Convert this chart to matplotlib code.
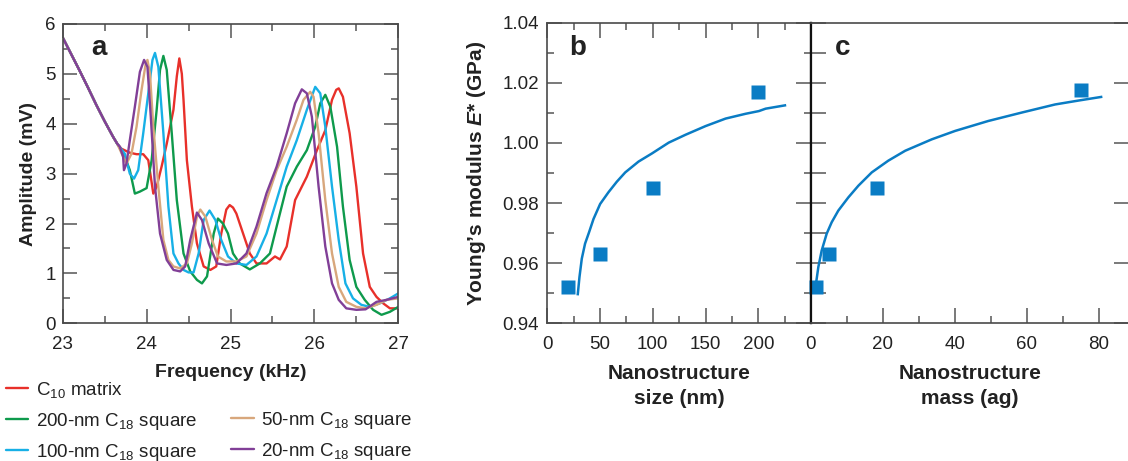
import numpy as np
import matplotlib
matplotlib.use("Agg")
import matplotlib.pyplot as plt
from matplotlib.lines import Line2D
from matplotlib.ticker import MultipleLocator, FixedLocator, FormatStrFormatter

plt.rcParams['font.family'] = ['Liberation Sans', 'DejaVu Sans']
plt.rcParams['mathtext.fontset'] = 'custom'
plt.rcParams['mathtext.rm'] = 'Liberation Sans'
plt.rcParams['mathtext.it'] = 'Liberation Sans:italic'
plt.rcParams['mathtext.bf'] = 'Liberation Sans:bold'
plt.rcParams['mathtext.bfit'] = 'Liberation Sans:italic:bold'

# ---------------- Panel a data ----------------
freq_common = [23.0, 23.1, 23.2, 23.3, 23.4, 23.5, 23.6, 23.65]
amp_common = [5.73, 5.40, 5.07, 4.73, 4.38, 4.05, 3.74, 3.60]

freq_c10 = [23.7, 23.8, 23.88, 23.96, 24.02, 24.08, 24.12, 24.18, 24.24, 24.32, 24.36, 24.39,
            24.42, 24.44, 24.48, 24.54, 24.6, 24.68, 24.76, 24.83, 24.89, 24.95, 24.99, 25.03,
            25.07, 25.15, 25.23, 25.31, 25.43, 25.53, 25.59, 25.67, 25.77, 25.91, 26.03, 26.13,
            26.21, 26.26, 26.29, 26.34, 26.42, 26.5, 26.58, 26.66, 26.74, 26.82, 26.9, 27.0]
amp_c10 = [3.50, 3.42, 3.39, 3.39, 3.27, 2.60, 2.74, 3.15, 3.60, 4.28, 4.95, 5.31,
           5.00, 4.48, 3.27, 2.34, 1.60, 1.14, 1.07, 1.14, 1.80, 2.28, 2.37, 2.32,
           2.20, 1.80, 1.40, 1.20, 1.20, 1.34, 1.28, 1.54, 2.47, 2.94, 3.47, 3.87,
           4.48, 4.68, 4.71, 4.54, 3.81, 2.74, 1.40, 0.73, 0.53, 0.40, 0.30, 0.30]

freq_200 = [23.74, 23.8, 23.86, 23.92, 24.0, 24.06, 24.12, 24.16, 24.2, 24.24, 24.3, 24.36,
            24.44, 24.52, 24.6, 24.66, 24.72, 24.8, 24.85, 24.91, 24.97, 25.03, 25.11, 25.23,
            25.35, 25.47, 25.55, 25.67, 25.79, 25.91, 26.01, 26.07, 26.13, 26.19, 26.27, 26.34,
            26.42, 26.5, 26.6, 26.7, 26.8, 26.9, 27.0]
amp_200 = [3.34, 3.07, 2.60, 2.64, 2.71, 3.27, 4.28, 5.08, 5.36, 5.08, 3.81, 2.47,
           1.40, 1.04, 0.87, 0.80, 0.94, 1.80, 2.10, 2.00, 1.80, 1.40, 1.20, 1.08,
           1.20, 1.40, 1.94, 2.74, 3.14, 3.47, 3.94, 4.41, 4.58, 4.34, 3.54, 2.34,
           1.27, 0.73, 0.47, 0.27, 0.17, 0.23, 0.33]

freq_100 = [23.74, 23.8, 23.85, 23.9, 23.96, 24.02, 24.07, 24.1, 24.14, 24.2, 24.26, 24.32,
            24.38, 24.44, 24.5, 24.56, 24.62, 24.68, 24.75, 24.82, 24.89, 24.97, 25.07, 25.19,
            25.31, 25.43, 25.55, 25.67, 25.79, 25.91, 26.01, 26.07, 26.13, 26.21, 26.29, 26.37,
            26.46, 26.56, 26.66, 26.78, 26.9, 27.0]
amp_100 = [3.40, 3.00, 2.90, 3.07, 3.81, 4.61, 5.28, 5.42, 5.14, 3.81, 2.34, 1.40,
           1.20, 1.07, 1.02, 1.02, 1.40, 2.07, 2.26, 2.07, 1.67, 1.34, 1.20, 1.17,
           1.34, 1.80, 2.47, 3.14, 3.67, 4.28, 4.74, 4.61, 3.94, 2.74, 1.67, 0.80,
           0.50, 0.37, 0.33, 0.40, 0.50, 0.60]

freq_50 = [23.72, 23.76, 23.82, 23.88, 23.94, 23.99, 24.01, 24.04, 24.08, 24.14, 24.2, 24.26,
           24.32, 24.4, 24.48, 24.54, 24.6, 24.64, 24.7, 24.78, 24.85, 24.95, 25.07, 25.19,
           25.31, 25.43, 25.55, 25.67, 25.79, 25.87, 25.95, 25.99, 26.05, 26.13, 26.21, 26.29,
           26.38, 26.5, 26.61, 26.74, 26.86, 27.0]
amp_50 = [3.34, 3.20, 3.40, 3.94, 4.68, 5.21, 5.28, 5.01, 3.94, 2.74, 1.67, 1.27,
          1.14, 1.10, 1.20, 1.60, 2.14, 2.28, 2.14, 1.67, 1.34, 1.24, 1.24, 1.34,
          1.80, 2.47, 3.07, 3.54, 4.08, 4.48, 4.64, 4.54, 3.81, 2.47, 1.40, 0.73,
          0.43, 0.33, 0.30, 0.37, 0.47, 0.50]

freq_20 = [23.68, 23.72, 23.73, 23.76, 23.8, 23.86, 23.92, 23.97, 24.01, 24.05, 24.1, 24.16,
           24.24, 24.32, 24.4, 24.46, 24.52, 24.6, 24.66, 24.74, 24.84, 24.95, 25.07, 25.19,
           25.31, 25.43, 25.55, 25.67, 25.77, 25.85, 25.91, 25.97, 26.05, 26.13, 26.21, 26.29,
           26.38, 26.5, 26.61, 26.74, 26.86, 27.0]
amp_20 = [3.54, 3.34, 3.07, 3.20, 3.67, 4.34, 5.04, 5.28, 5.14, 4.14, 2.74, 1.80,
          1.27, 1.07, 1.04, 1.14, 1.67, 2.22, 2.07, 1.60, 1.20, 1.17, 1.20, 1.40,
          1.94, 2.61, 3.14, 3.81, 4.41, 4.69, 4.61, 4.14, 2.74, 1.54, 0.80, 0.47,
          0.30, 0.27, 0.28, 0.43, 0.47, 0.53]

labels_a = [r'C$_{10}$ matrix', r'200-nm C$_{18}$ square', r'100-nm C$_{18}$ square',
            r'50-nm C$_{18}$ square', r'20-nm C$_{18}$ square']
colors_a = ['#e8302a', '#0e9a4c', '#17b0e6', '#d8a77c', '#813f97']

# ---------------- Panels b, c data ----------------
size_nm = [20, 50, 100, 200]
modulus_size = [0.952, 0.963, 0.985, 1.017]
fit_size_x = [28.9, 30.5, 32.7, 35.8, 39.6, 43.8, 50.1, 58.0, 65.9, 73.9, 86.5, 99.2,
              115.1, 130.9, 150.0, 169.0, 188.0, 200.6, 207.0, 225.3]
fit_size_y = [0.9497, 0.9554, 0.9615, 0.9665, 0.9703, 0.9747, 0.9797, 0.9836, 0.9871,
              0.9902, 0.9938, 0.9965, 1.0001, 1.0027, 1.0056, 1.0081, 1.0097, 1.0106,
              1.0114, 1.0125]

mass_ag = [1.3, 5.0, 18.4, 75.1]
modulus_mass = [0.952, 0.963, 0.985, 1.0176]
fit_mass_x = [1.39, 2.04, 2.97, 4.36, 5.75, 7.6, 10.4, 13.2, 16.9, 21.5, 26.2, 33.6,
              40.1, 49.3, 58.6, 67.9, 74.4, 80.7]
fit_mass_y = [0.9532, 0.9587, 0.9642, 0.9698, 0.9736, 0.9775, 0.9819, 0.9858, 0.9902,
              0.9941, 0.9974, 1.0012, 1.0040, 1.0073, 1.0101, 1.0128, 1.0141, 1.0153]

blue = '#0a7cc4'
spine_gray = '#4a4a4a'
tick_gray = '#555555'
text_col = '#222222'
TICK_FS = 13.5

W, H = 1128, 461
fig = plt.figure(figsize=(W / 100, H / 100), dpi=100)


def fig_rect(l, r, t, b):
    return [l / W, 1 - b / H, (r - l) / W, (b - t) / H]


# ---------------- Panel a ----------------
axa = fig.add_axes(fig_rect(62.7, 398.3, 24, 323.3))
series = [(freq_c10, amp_c10), (freq_200, amp_200), (freq_100, amp_100),
          (freq_50, amp_50), (freq_20, amp_20)]
handles = []
for (f, a), col, lab in zip(series, colors_a, labels_a):
    ff = freq_common + f
    aa = amp_common + a
    h, = axa.plot(ff, aa, color=col, lw=1.7, solid_joinstyle='round',
                  solid_capstyle='round', label=lab)
    handles.append(h)
axa.set_xlim(23, 27)
axa.set_ylim(0, 6)
axa.xaxis.set_major_locator(MultipleLocator(1))
axa.xaxis.set_minor_locator(MultipleLocator(0.5))
axa.yaxis.set_major_locator(MultipleLocator(1))
axa.yaxis.set_minor_locator(MultipleLocator(0.5))
axa.tick_params(which='both', direction='in', top=True, right=True, color=tick_gray,
                width=1.1, labelsize=TICK_FS, labelcolor=text_col)
axa.tick_params(which='major', length=10)
axa.tick_params(which='minor', length=5)
axa.tick_params(axis='x', pad=9)
axa.tick_params(axis='y', pad=5)
for s in axa.spines.values():
    s.set_color(spine_gray)
    s.set_linewidth(1.2)
axa.set_xlabel('Frequency (kHz)', fontsize=14, fontweight='bold', color=text_col, labelpad=8)
axa.set_ylabel('Amplitude (mV)', fontsize=14, fontweight='bold', color=text_col, labelpad=6)
axa.text(0.085, 0.92, 'a', transform=axa.transAxes, fontsize=20, fontweight='bold',
         color=text_col, va='center', ha='left')

blank = Line2D([], [], color='none')
leg_handles = [handles[0], handles[1], handles[2], blank, handles[3], handles[4]]
leg_labels = [labels_a[0], labels_a[1], labels_a[2], '', labels_a[3], labels_a[4]]
fig.legend(leg_handles, leg_labels, ncol=2, loc='upper left',
           bbox_to_anchor=(6 / W, 1 - 380 / H), frameon=False, fontsize=13.5,
           handlelength=1.2, handletextpad=0.4, columnspacing=1.8, labelspacing=0.56,
           borderpad=0, borderaxespad=0, labelcolor=text_col)

# ---------------- Panel b ----------------
axb = fig.add_axes(fig_rect(547.3, 811, 22.7, 323.3))
axb.plot(fit_size_x, fit_size_y, color=blue, lw=1.8, solid_joinstyle='round')
axb.plot(size_nm, modulus_size, ls='none', marker='s', ms=10, color=blue, mec='none')
axb.set_xlim(0, 250)
axb.set_ylim(0.94, 1.04)
axb.xaxis.set_major_locator(FixedLocator([0, 50, 100, 150, 200]))
axb.xaxis.set_minor_locator(MultipleLocator(25))
axb.yaxis.set_major_locator(MultipleLocator(0.02))
axb.yaxis.set_minor_locator(MultipleLocator(0.01))
axb.yaxis.set_major_formatter(FormatStrFormatter('%.2f'))
axb.tick_params(which='both', direction='in', top=True, right=True, color=tick_gray,
                width=1.1, labelsize=TICK_FS, labelcolor=text_col)
axb.tick_params(which='major', length=11)
axb.tick_params(which='minor', length=5)
axb.tick_params(axis='x', pad=9)
axb.tick_params(axis='y', pad=6)
for s in axb.spines.values():
    s.set_color(spine_gray)
    s.set_linewidth(1.2)
axb.spines['right'].set_color('#111111')
axb.spines['right'].set_linewidth(1.6)
axb.set_xlabel('Nanostructure\nsize (nm)', fontsize=15, fontweight='bold', color=text_col,
               labelpad=8, linespacing=1.4)
axb.set_ylabel('Young\u2019s modulus $\\mathbfit{E}$* (GPa)', fontsize=15, fontweight='bold',
               color=text_col, labelpad=10)
axb.text(0.085, 0.915, 'b', transform=axb.transAxes, fontsize=20, fontweight='bold',
         color=text_col, va='center', ha='left')

# ---------------- Panel c ----------------
axc = fig.add_axes(fig_rect(811, 811 + 88.5 * 3.595, 22.7, 323.3))
axc.plot(fit_mass_x, fit_mass_y, color=blue, lw=1.8, solid_joinstyle='round')
axc.plot(mass_ag, modulus_mass, ls='none', marker='s', ms=10, color=blue, mec='none',
         clip_on=False)
axc.set_xlim(0, 88.5)
axc.set_ylim(0.94, 1.04)
axc.xaxis.set_major_locator(MultipleLocator(20))
axc.xaxis.set_minor_locator(MultipleLocator(10))
axc.yaxis.set_major_locator(MultipleLocator(0.02))
axc.yaxis.set_minor_locator(MultipleLocator(0.01))
axc.tick_params(which='both', direction='in', top=False, right=True, labelleft=False,
                color=tick_gray, width=1.1, labelsize=TICK_FS, labelcolor=text_col)
axc.tick_params(which='major', length=11)
axc.tick_params(axis='x', which='minor', length=5)
axc.tick_params(axis='y', which='minor', length=11, right=False)
axc.tick_params(axis='x', pad=9)
for s in axc.spines.values():
    s.set_color(spine_gray)
    s.set_linewidth(1.2)
axc.spines['left'].set_color('#111111')
axc.spines['left'].set_linewidth(1.6)
axc.set_xlabel('Nanostructure\nmass (ag)', fontsize=15, fontweight='bold', color=text_col,
               labelpad=8, linespacing=1.4)
axc.text(0.075, 0.915, 'c', transform=axc.transAxes, fontsize=20, fontweight='bold',
         color=text_col, va='center', ha='left')

fig.savefig('out.png', dpi=100)
